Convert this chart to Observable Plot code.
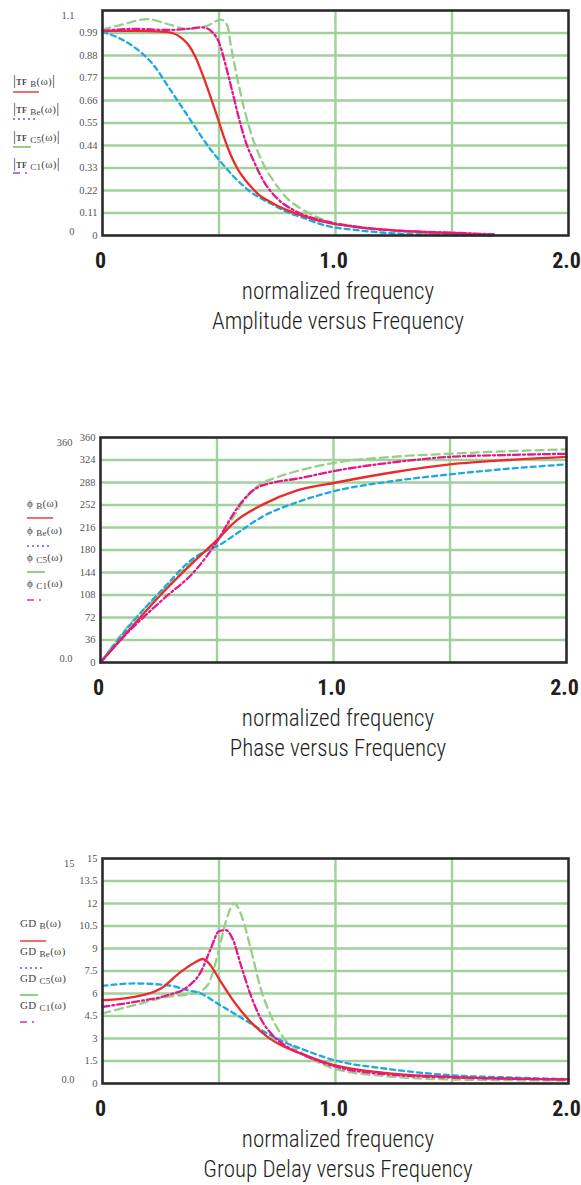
<!DOCTYPE html>
<html><head><meta charset="utf-8">
<script src="https://cdn.jsdelivr.net/npm/d3@7"></script>
<script src="https://cdn.jsdelivr.net/npm/@observablehq/plot@0.6"></script>
<style>
html,body{margin:0;padding:0;background:#fff;}
#page{position:relative;width:581px;height:1185px;overflow:hidden;}
.panel{position:absolute;left:0;}
.cap{position:absolute;transform:translateX(-50%);white-space:nowrap;font-family:"Liberation Sans Narrow","Roboto Condensed","Roboto",sans-serif;font-weight:300;font-size:23px;line-height:22px;color:#231f20;}
.leg{position:absolute;font-family:"Liberation Serif","DejaVu Serif",serif;font-size:11px;color:#444;white-space:nowrap;line-height:12px;height:12px;letter-spacing:0.3px;}
.leg sub{font-size:9px;vertical-align:-2px;line-height:0;}
.leg .bar{font-size:15px;}
.leg .tf{font-size:8px;font-weight:bold;}
.sw{position:absolute;display:block;}
</style></head><body><div id="page"></div>
<script>
// ---------- shared ----------
const seriesNames = ["B", "Be", "C5", "C1"];
const xTicks = [0, 1, 2];
const xTickLabels = ["0", "1.0", "2.0"];
const xGrid = [0.5, 1.0, 1.5];
const axisLabel = "normalized frequency";

// ---------- Amplitude ----------
const ampTitle = "Amplitude versus Frequency";
const ampTicks = [0, 0.11, 0.22, 0.33, 0.44, 0.55, 0.66, 0.77, 0.88, 0.99];
const ampTickLabels = ["0", "0.11", "0.22", "0.33", "0.44", "0.55", "0.66", "0.77", "0.88", "0.99"];
const ampOuterLabels = ["1.1", "0"];
const ampB_x  = [0, 0.1, 0.2, 0.26, 0.30, 0.34, 0.37, 0.40, 0.43, 0.46, 0.49, 0.52, 0.55, 0.58, 0.61, 0.64, 0.67, 0.708, 0.75, 0.794, 0.851, 0.951, 1.1, 1.237, 1.4, 1.52, 1.68];
const ampB_y  = [1.0, 1.0, 0.999, 0.996, 0.99, 0.965, 0.93, 0.87, 0.785, 0.69, 0.59, 0.485, 0.395, 0.325, 0.275, 0.235, 0.20, 0.172, 0.145, 0.123, 0.10, 0.066, 0.04, 0.026, 0.016, 0.011, 0.004];
const ampBe_x = [0, 0.079, 0.164, 0.221, 0.279, 0.336, 0.393, 0.451, 0.508, 0.565, 0.636, 0.722, 0.808, 0.851, 0.951, 1.094, 1.237, 1.38, 1.52, 1.68];
const ampBe_y = [0.995, 0.961, 0.896, 0.831, 0.733, 0.636, 0.538, 0.44, 0.359, 0.286, 0.213, 0.156, 0.107, 0.091, 0.05, 0.026, 0.011, 0.004, 0.001, 0];
const ampC5_x = [0, 0.093, 0.193, 0.279, 0.365, 0.451, 0.49, 0.508, 0.536, 0.551, 0.579, 0.608, 0.636, 0.679, 0.737, 0.794, 0.851, 0.951, 1.1, 1.237, 1.38, 1.52, 1.68];
const ampC5_y = [1.006, 1.034, 1.058, 1.034, 1.01, 1.026, 1.05, 1.055, 1.026, 0.928, 0.766, 0.62, 0.505, 0.376, 0.261, 0.18, 0.132, 0.076, 0.04, 0.023, 0.012, 0.005, 0];
const ampC1_x = [0, 0.135, 0.279, 0.38, 0.422, 0.45, 0.472, 0.50, 0.529, 0.558, 0.586, 0.615, 0.651, 0.694, 0.751, 0.822, 0.951, 1.1, 1.237, 1.38, 1.52, 1.68];
const ampC1_y = [1.0, 1.01, 1.005, 1.012, 1.018, 1.012, 0.993, 0.944, 0.831, 0.70, 0.571, 0.457, 0.359, 0.261, 0.18, 0.123, 0.071, 0.042, 0.026, 0.018, 0.013, 0.005];

// ---------- Phase ----------
const phaseTitle = "Phase versus Frequency";
const phaseTicks = [0, 36, 72, 108, 144, 180, 216, 252, 288, 324, 360];
const phaseTickLabels = ["0", "36", "72", "108", "144", "180", "216", "252", "288", "324", "360"];
const phaseOuterLabels = ["360", "0.0"];
const phB_x  = [0, 0.125, 0.268, 0.411, 0.497, 0.583, 0.698, 0.841, 1.012, 1.25, 1.499, 1.75, 2.0];
const phB_y  = [0, 53, 112, 165, 195, 227, 253, 275, 288, 304, 317, 324, 329];
const phBe_x = [0, 0.125, 0.268, 0.40, 0.46, 0.50, 0.583, 0.698, 0.841, 1.012, 1.25, 1.499, 1.75, 2.0];
const phBe_y = [0, 59, 118, 167, 180, 186, 206, 234, 256, 275, 290, 301, 310, 317];
const phC5_x = [0, 0.125, 0.268, 0.411, 0.497, 0.583, 0.62, 0.655, 0.70, 0.755, 0.841, 1.012, 1.25, 1.499, 1.75, 2.0];
const phC5_y = [0, 61, 115, 168, 192, 240, 261, 276, 288, 296, 306, 320, 329, 334, 338, 341];
const phC1_x = [0, 0.125, 0.268, 0.411, 0.497, 0.583, 0.62, 0.65, 0.68, 0.72, 0.755, 0.841, 1.012, 1.25, 1.499, 1.75, 2.0];
const phC1_y = [0, 51, 101, 149, 192, 245, 263, 274, 281, 286, 289, 294, 307, 320, 329, 332, 334];

// ---------- Group delay ----------
const gdTitle = "Group Delay versus Frequency";
const gdTicks = [0, 1.5, 3, 4.5, 6, 7.5, 9, 10.5, 12, 13.5, 15];
const gdTickLabels = ["0", "1.5", "3", "4.5", "6", "7.5", "9", "10.5", "12", "13.5", "15"];
const gdOuterLabels = ["15", "0.0"];
const gdB_x  = [0, 0.136, 0.25, 0.336, 0.40, 0.43, 0.451, 0.508, 0.565, 0.636, 0.708, 0.78, 0.851, 0.994, 1.21, 1.495, 1.75, 2.0];
const gdB_y  = [5.55, 5.77, 6.33, 7.44, 8.1, 8.3, 8.11, 6.77, 5.44, 4.11, 3.11, 2.45, 2.0, 1.22, 0.71, 0.44, 0.33, 0.27];
const gdBe_x = [0, 0.136, 0.279, 0.365, 0.422, 0.494, 0.565, 0.636, 0.708, 0.794, 0.851, 0.994, 1.21, 1.495, 1.75, 2.0];
const gdBe_y = [6.51, 6.67, 6.55, 6.22, 6.0, 5.33, 4.67, 4.0, 3.33, 2.67, 2.33, 1.55, 1.0, 0.55, 0.4, 0.29];
const gdC5_x = [0, 0.136, 0.279, 0.393, 0.451, 0.494, 0.529, 0.565, 0.601, 0.636, 0.679, 0.722, 0.779, 0.851, 0.994, 1.21, 1.495, 1.75, 2.0];
const gdC5_y = [4.67, 5.22, 5.78, 6.0, 6.55, 8.55, 10.77, 12.0, 11.0, 9.0, 6.33, 4.55, 3.0, 2.1, 1.0, 0.49, 0.27, 0.22, 0.2];
const gdC1_x = [0, 0.136, 0.279, 0.365, 0.422, 0.465, 0.50, 0.529, 0.558, 0.594, 0.636, 0.679, 0.737, 0.794, 0.85, 0.994, 1.21, 1.495, 1.75, 2.0];
const gdC1_y = [5.11, 5.44, 5.89, 6.44, 7.44, 9.0, 10.15, 10.22, 9.67, 7.89, 5.89, 4.33, 3.11, 2.44, 2.0, 1.15, 0.62, 0.4, 0.32, 0.27];

// ---------- styles ----------
const lineStyle = {
  B:  {stroke: "#ec2a2a", strokeWidth: 2.3, dash: null},
  Be: {stroke: "#1aa9e2", strokeWidth: 2.3, dash: "5,4"},
  C5: {stroke: "#96cf87", strokeWidth: 2.3, dash: "8,5"},
  C1: {stroke: "#e8168a", strokeWidth: 2.3, dash: "7,3,2,3"}
};
const swatchStyle = {
  B:  {stroke: "#f26d6d", w: 2, dash: null, len: 26},
  Be: {stroke: "#5b5bd8", w: 1.6, dash: "2,3", len: 22},
  C5: {stroke: "#94cf88", w: 2, dash: null, len: 18},
  C1: {stroke: "#d46bb4", w: 2, dash: "7,5,2,30", len: 20}
};
const drawOrder = ["C5", "Be", "B", "C1"];
const gridColor = "#a0d19a";
const textFont = '"Liberation Sans Narrow","Roboto Condensed","Roboto",sans-serif';
const tickFont = '"Liberation Serif","DejaVu Serif",serif';

const panels = [
  {top: 0, ml: 102, mr: 13, ymax: 1.1, ticks: ampTicks, labels: ampTickLabels, outer: ampOuterLabels, title: ampTitle,
   series: {B: [ampB_x, ampB_y], Be: [ampBe_x, ampBe_y], C5: [ampC5_x, ampC5_y], C1: [ampC1_x, ampC1_y]},
   legend: {kind: "tf", left: 13, text: [80, 108, 136, 163], sw: [92, 119, 147, 173]}},
  {top: 427, ml: 100, mr: 15, ymax: 360, ticks: phaseTicks, labels: phaseTickLabels, outer: phaseOuterLabels, title: phaseTitle,
   series: {B: [phB_x, phB_y], Be: [phBe_x, phBe_y], C5: [phC5_x, phC5_y], C1: [phC1_x, phC1_y]},
   legend: {kind: "phi", left: 27, text: [76, 103, 130, 156], sw: [91, 119, 145, 173]}},
  {top: 848, ml: 102, mr: 13, ymax: 15, ticks: gdTicks, labels: gdTickLabels, outer: gdOuterLabels, title: gdTitle,
   series: {B: [gdB_x, gdB_y], Be: [gdBe_x, gdBe_y], C5: [gdC5_x, gdC5_y], C1: [gdC1_x, gdC1_y]},
   legend: {kind: "gd", left: 20, text: [75, 103, 130, 157], sw: [93, 120, 147, 174]}}
];

const page = document.getElementById("page");
const xLabelMap = new Map(xTicks.map((t, i) => [t, xTickLabels[i]]));

for (const p of panels) {
  const yLabelMap = new Map(p.ticks.map((t, i) => [t, p.labels[i]]));
  const gridTicks = p.ticks.filter(t => t > 0 && t < p.ymax);
  const lineMarks = drawOrder.map(name => {
    const [xs, ys] = p.series[name];
    const st = lineStyle[name];
    return Plot.line(xs.map((x, j) => ({x, y: ys[j]})), {
      x: "x", y: "y", stroke: st.stroke, strokeWidth: st.strokeWidth,
      strokeDasharray: st.dash, curve: "monotone-x"
    });
  });
  const chart = Plot.plot({
    width: 581, height: 275,
    marginTop: 10, marginBottom: 40, marginLeft: p.ml, marginRight: p.mr,
    x: {domain: [0, 2]},
    y: {domain: [0, p.ymax]},
    style: {overflow: "visible", background: "transparent"},
    marks: [
      Plot.gridY(gridTicks, {stroke: gridColor, strokeOpacity: 1, strokeWidth: 2.4}),
      Plot.gridX(xGrid, {stroke: gridColor, strokeOpacity: 1, strokeWidth: 2.4}),
      ...lineMarks,
      Plot.frame({stroke: "#2b2b2b", strokeWidth: 2.6}),
      Plot.axisX(xTicks, {tickSize: 0, tickPadding: 17, dx: -2, tickFormat: d => xLabelMap.get(d), label: null,
        fontSize: 22, fontWeight: "bold", fontFamily: textFont, fill: "#231f20"}),
      Plot.axisY(p.ticks, {tickSize: 0, tickPadding: 5, tickFormat: d => yLabelMap.get(d), label: null,
        fontSize: 10.5, fontFamily: tickFont, fill: "#555"}),
      Plot.axisY([p.ymax], {tickSize: 0, tickPadding: 28, dy: 5, tickFormat: () => p.outer[0], label: null,
        fontSize: 10.5, fontFamily: tickFont, fill: "#555"}),
      Plot.axisY([0], {tickSize: 0, tickPadding: 28, dy: -4, tickFormat: () => p.outer[1], label: null,
        fontSize: 10.5, fontFamily: tickFont, fill: "#555"})
    ]
  });
  const wrap = document.createElement("div");
  wrap.className = "panel";
  wrap.style.top = p.top + "px";
  wrap.appendChild(chart);
  page.appendChild(wrap);

  // captions
  const cx = 338;
  const lab = document.createElement("div");
  lab.className = "cap"; lab.textContent = axisLabel;
  lab.style.left = cx + "px"; lab.style.top = (p.top + 281) + "px";
  page.appendChild(lab);
  const ttl = document.createElement("div");
  ttl.className = "cap"; ttl.textContent = p.title;
  ttl.style.left = cx + "px"; ttl.style.top = (p.top + 311) + "px";
  page.appendChild(ttl);

  // legend
  seriesNames.forEach((name, i) => {
    const t = document.createElement("div");
    t.className = "leg";
    t.style.left = p.legend.left + "px";
    t.style.top = (p.top + p.legend.text[i] - 6) + "px";
    const sub = `<sub>${name}</sub>(ω)`;
    if (p.legend.kind === "tf") t.innerHTML = `<span class="bar">|</span><span class="tf">TF</span> ${sub}<span class="bar">|</span>`;
    else if (p.legend.kind === "phi") t.innerHTML = `ϕ ${sub}`;
    else t.innerHTML = `GD ${sub}`;
    page.appendChild(t);
    const s = swatchStyle[name];
    const ns = "http://www.w3.org/2000/svg";
    const svg = document.createElementNS(ns, "svg");
    svg.setAttribute("class", "sw");
    svg.setAttribute("width", 30); svg.setAttribute("height", 4);
    svg.style.left = p.legend.left + "px";
    svg.style.top = (p.top + p.legend.sw[i] - 2) + "px";
    const ln = document.createElementNS(ns, "line");
    ln.setAttribute("x1", 0); ln.setAttribute("x2", s.len);
    ln.setAttribute("y1", 2); ln.setAttribute("y2", 2);
    ln.setAttribute("stroke", s.stroke); ln.setAttribute("stroke-width", s.w);
    if (s.dash) ln.setAttribute("stroke-dasharray", s.dash);
    svg.appendChild(ln);
    page.appendChild(svg);
  });
}
</script></body></html>
